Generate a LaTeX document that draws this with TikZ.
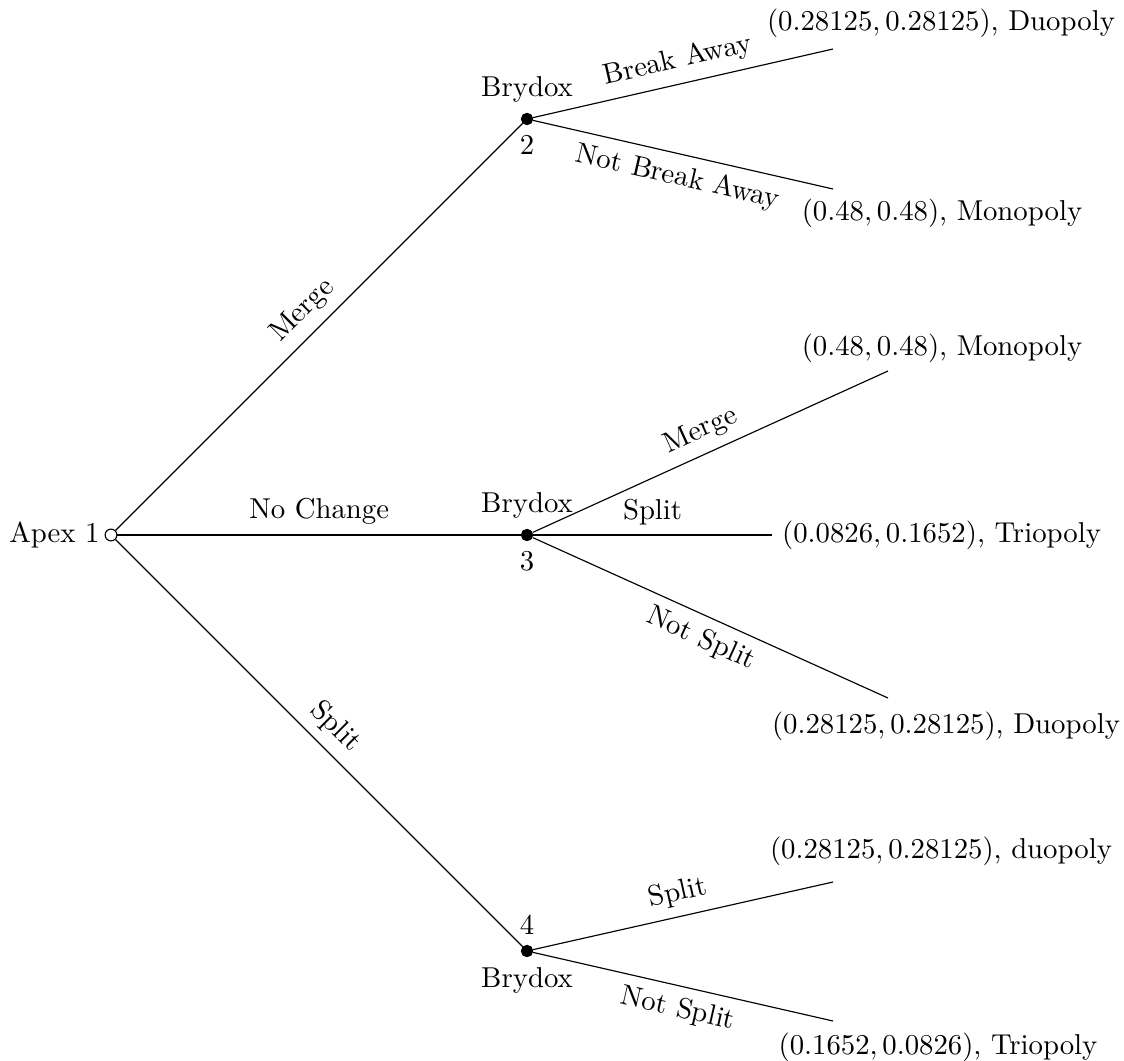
\documentclass[tikz,border=0pt]{standalone}
\begin{document}
\begin{tikzpicture}[x=0.3478pt,y=-0.3478pt,
  solidnode/.style={circle,fill=black,draw=black,inner sep=0pt,minimum size=3.9pt},
  hollownode/.style={circle,fill=white,draw=black,inner sep=0pt,minimum size=4.1pt},
  payoff/.style={anchor=base,inner sep=0pt}]
\useasboundingbox (0,0) rectangle (1124,1061);
% decision nodes
\node[hollownode, label={[label distance=-1.8pt]left:Apex 1}] (r) at (111,535) {};
\node[solidnode, label={above:Brydox}, label={below:2}] (b2) at (527,119) {};
\node[solidnode, label={above:Brydox}, label={below:3}] (b3) at (527,535) {};
\node[solidnode, label={above:4}, label={below:Brydox}] (b4) at (527,951) {};
% terminal ends
\coordinate (t1) at (833,49);
\coordinate (t2) at (833,189);
\coordinate (t3) at (888,371);
\coordinate (t4) at (772,535);
\coordinate (t5) at (888,698);
\coordinate (t6) at (833,882);
\coordinate (t7) at (833,1021);
% edges from root
\draw (r) -- node[midway,sloped,above]{Merge} (b2);
\draw (r) -- node[midway,above]{No Change} (b3);
\draw (r) -- node[midway,sloped,above]{Split} (b4);
% edges from Brydox 2
\draw (b2) -- node[midway,sloped,above]{Break Away} (t1);
\draw (b2) -- node[midway,sloped,below]{Not Break Away} (t2);
% edges from Brydox 3
\draw (b3) -- node[midway,sloped,above]{Merge} (t3);
\draw (b3) -- node[midway,above]{Split} (t4);
\draw (b3) -- node[midway,sloped,below]{Not Split} (t5);
% edges from Brydox 4
\draw (b4) -- node[midway,sloped,above]{Split} (t6);
\draw (b4) -- node[midway,sloped,below]{Not Split} (t7);
% payoffs
\node[payoff] (p1) at (941,30) {$(0.28125,0.28125)$, Duopoly};
\node[payoff] (p2) at (942,220) {$(0.48,0.48)$, Monopoly};
\node[payoff] (p3) at (942,355) {$(0.48,0.48)$, Monopoly};
\node[anchor=west] (p4) at (t4) {$(0.0826,0.1652)$, Triopoly};
\node[payoff] (p5) at (946,733) {$(0.28125,0.28125)$, Duopoly};
\node[payoff] (p6) at (941,858) {$(0.28125,0.28125)$, duopoly};
\node[payoff] (p7) at (938,1054) {$(0.1652,0.0826)$, Triopoly};
\end{tikzpicture}
\end{document}
